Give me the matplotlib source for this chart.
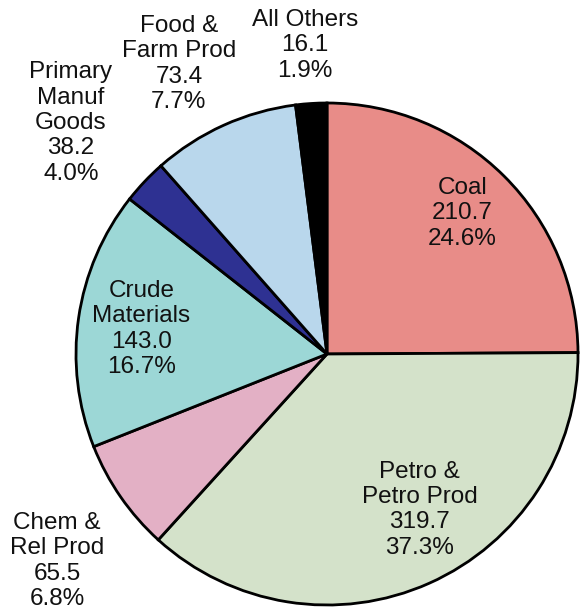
import matplotlib.pyplot as plt

# commodity tonnage (millions of tons) and shares as printed on the chart
labels = ['Coal', 'Petro &\nPetro Prod', 'Chem &\nRel Prod', 'Crude\nMaterials',
          'Primary\nManuf\nGoods', 'Food &\nFarm Prod', 'All Others']
values = [210.7, 319.7, 65.5, 143.0, 38.2, 73.4, 16.1]
pcts = ['24.6%', '37.3%', '6.8%', '16.7%', '4.0%', '7.7%', '1.9%']
# wedge sizes as actually drawn in the source chart (percent, measured)
drawn_share = [24.9, 36.8, 7.25, 16.6, 2.9, 9.5, 2.0]
colors = ['#E88C88', '#D4E2CA', '#E3B0C5', '#9CD7D6', '#2E3192', '#B9D7EC', '#000000']

# label anchor points (pie radius units)
label_pos = [(0.54, 0.56), (0.37, -0.62), (-1.076, -0.825), (-0.74, 0.10),
             (-1.02, 0.92), (-0.59, 1.155), (-0.088, 1.23)]

plt.rcParams['font.family'] = ['Liberation Sans', 'DejaVu Sans']

fig = plt.figure(figsize=(5.83, 6.12), dpi=100)
ax = fig.add_axes([76 / 583, 7 / 612, 502 / 583, 502 / 612])
ax.pie(drawn_share, colors=colors, startangle=90, counterclock=False,
       wedgeprops=dict(edgecolor='black', linewidth=2))
ax.set_xlim(-1, 1)
ax.set_ylim(-1, 1)
ax.set_aspect('equal')

for lab, v, p, (x, y) in zip(labels, values, pcts, label_pos):
    ax.text(x, y, f'{lab}\n{v:.1f}\n{p}', ha='center', va='center',
            fontsize=17.5, color='#111111', linespacing=1.2, clip_on=False)

fig.savefig('out.png', dpi=100)
